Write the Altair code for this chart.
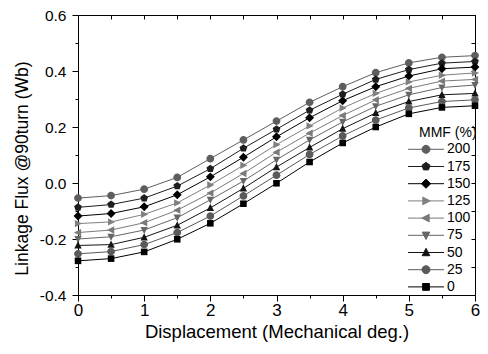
import altair as alt
import pandas as pd

FONT = "Liberation Sans"

displacement = [0, 0.5, 1, 1.5, 2, 2.5, 3, 3.5, 4, 4.5, 5, 5.5, 6]
mmf_levels = ["200", "175", "150", "125", "100", "75", "50", "25", "0"]

flux_200 = [-0.054, -0.045, -0.022, 0.020, 0.087, 0.154, 0.221, 0.288, 0.344, 0.394, 0.429, 0.449, 0.455]
flux_175 = [-0.087, -0.077, -0.054, -0.011, 0.051, 0.124, 0.192, 0.260, 0.317, 0.370, 0.405, 0.428, 0.434]
flux_150 = [-0.118, -0.109, -0.085, -0.042, 0.022, 0.092, 0.165, 0.233, 0.294, 0.344, 0.382, 0.408, 0.414]
flux_125 = [-0.145, -0.139, -0.112, -0.071, -0.007, 0.063, 0.137, 0.204, 0.268, 0.320, 0.361, 0.385, 0.393]
flux_100 = [-0.177, -0.168, -0.142, -0.097, -0.036, 0.034, 0.110, 0.178, 0.241, 0.297, 0.338, 0.364, 0.370]
flux_75 = [-0.200, -0.192, -0.168, -0.124, -0.060, 0.007, 0.083, 0.154, 0.218, 0.274, 0.315, 0.341, 0.350]
flux_50 = [-0.223, -0.220, -0.194, -0.151, -0.089, -0.019, 0.057, 0.127, 0.194, 0.250, 0.291, 0.315, 0.320]
flux_25 = [-0.253, -0.245, -0.220, -0.177, -0.118, -0.046, 0.028, 0.102, 0.168, 0.225, 0.268, 0.291, 0.297]
flux_0 = [-0.278, -0.270, -0.246, -0.201, -0.144, -0.074, -0.001, 0.075, 0.143, 0.200, 0.247, 0.270, 0.276]

series_values = [flux_200, flux_175, flux_150, flux_125, flux_100, flux_75, flux_50, flux_25, flux_0]
series_colors = ["#5e5e5e", "#1e1e1e", "#000000", "#808080", "#7a7a7a", "#666666", "#141414", "#5a5a5a", "#000000"]

marker_paths = [
    "M1,0A1,1,0,1,1,-1,0A1,1,0,1,1,1,0Z",                 # circle
    "M0,-1.05L1,-0.32L0.62,0.85L-0.62,0.85L-1,-0.32Z",     # pentagon
    "M0,-1.15L1.15,0L0,1.15L-1.15,0Z",                     # diamond
    "M1.05,0L-0.8,-0.95L-0.8,0.95Z",                       # triangle right
    "M-1.05,0L0.8,-0.95L0.8,0.95Z",                        # triangle left
    "M0,1.05L-0.95,-0.8L0.95,-0.8Z",                       # triangle down
    "M0,-1.05L-0.95,0.8L0.95,0.8Z",                        # triangle up
    "M1,0A1,1,0,1,1,-1,0A1,1,0,1,1,1,0Z",                 # circle
    "M-0.85,-0.85H0.85V0.85H-0.85Z",                       # square
]
legend_paths = ["M-4.5,0H4.5" + p for p in marker_paths]

x_ticks = [i * 0.5 for i in range(13)]
y_ticks = [round(-0.4 + 0.1 * i, 1) for i in range(11)]

rows = []
for lvl, vals in zip(mmf_levels, series_values):
    for xv, yv in zip(displacement, vals):
        rows.append({"x": xv, "flux": yv, "mmf": lvl})
df = pd.DataFrame(rows)

xs = alt.Scale(domain=[0, 6], nice=False, zero=False)
ys = alt.Scale(domain=[-0.4, 0.6], nice=False, zero=False)
color_scale = alt.Scale(domain=mmf_levels, range=series_colors)

is_y_major = "abs(datum.value*5 - round(datum.value*5)) < 0.001"

bottom_axis = alt.Axis(
    orient="bottom", values=x_ticks,
    labelExpr="datum.value % 1 == 0 ? format(datum.value, 'd') : ''",
    domain=False, grid=False, labelFlush=False, labelOverlap=False,
    tickSize={"condition": {"test": "datum.value % 1 == 0", "value": 6}, "value": 3},
    tickColor="black", tickWidth=1,
    labelFont=FONT, labelFontSize=17, labelColor="black", labelPadding=1,
    title="Displacement (Mechanical deg.)", titleFont=FONT, titleFontSize=18.5,
    titleFontWeight="normal", titleColor="black", titleY=42, titleBaseline="alphabetic",
)
left_axis = alt.Axis(
    orient="left", values=y_ticks,
    labelExpr=is_y_major + " ? (datum.value < -0.001 ? '-' + format(-datum.value, '.1f') : format(abs(datum.value), '.1f')) : ''",
    domain=False, grid=False, labelFlush=False, labelOverlap=False,
    tickSize={"condition": {"test": is_y_major, "value": 6}, "value": 3},
    tickColor="black", tickWidth=1,
    labelFont=FONT, labelFontSize=15.5, labelColor="black", labelPadding=6,
    title="Linkage Flux @90turn (Wb)", titleFont=FONT, titleFontSize=17.5,
    titleFontWeight="normal", titleColor="black", titleAngle=270,
    titleX=-56, titleY=153, titleAlign="center", titleBaseline="middle",
)
top_axis = alt.Axis(
    orient="top", values=x_ticks, labels=False, domain=False, grid=False,
    tickSize=4, offset=-4, tickColor="black", tickWidth=1, title="",
)
right_axis = alt.Axis(
    orient="right", values=y_ticks, labels=False, domain=False, grid=False,
    tickSize=4, offset=-4, tickColor="black", tickWidth=1, title="",
)

lines = alt.Chart(df).mark_line(strokeWidth=1).encode(
    x=alt.X("x:Q", scale=xs, axis=bottom_axis),
    y=alt.Y("flux:Q", scale=ys, axis=left_axis),
    color=alt.Color("mmf:N", scale=color_scale, legend=None),
)

points = alt.Chart(df).mark_point(filled=True, size=60, opacity=1).encode(
    x=alt.X("x:Q", scale=xs, axis=top_axis),
    y=alt.Y("flux:Q", scale=ys, axis=right_axis),
    color=alt.Color("mmf:N", scale=color_scale, legend=None),
    shape=alt.Shape("mmf:N", scale=alt.Scale(domain=mmf_levels, range=marker_paths), legend=None),
)

level_list = "[" + ",".join("'%s'" % v for v in mmf_levels) + "]"
color_list = "[" + ",".join("'%s'" % c for c in series_colors) + "]"
entry_color_expr = "%s[indexof(%s, datum.value)]" % (color_list, level_list)

leg = alt.Legend(
    title="MMF (%)", orient="none", legendX=341, legendY=110.7,
    titleFont=FONT, titleFontSize=14, titleFontWeight="normal", titleColor="black",
    titleAnchor="start", titlePadding=2.6,
    labelFont=FONT, labelFontSize=14, labelColor="black",
    symbolSize=64, symbolStrokeWidth=1,
    labelOffset=14, rowPadding=3.2, padding=0,
)

legend_layer = alt.Chart(df).transform_filter("false").mark_point(
    filled=True, opacity=1, strokeWidth=1,
    fill={"expr": entry_color_expr}, stroke={"expr": entry_color_expr},
).encode(
    x=alt.X("x:Q", scale=xs, axis=None),
    y=alt.Y("flux:Q", scale=ys, axis=None),
    shape=alt.Shape("mmf:N", scale=alt.Scale(domain=mmf_levels, range=legend_paths), legend=leg),
)

chart = (
    alt.layer(lines, points, legend_layer)
    .resolve_scale(shape="independent")
    .resolve_axis(x="independent", y="independent")
    .properties(
        width=397, height=280,
        padding={"left": 70, "top": 7, "right": 5, "bottom": 47},
        autosize=alt.AutoSizeParams(type="none"),
        background="white",
    )
    .configure_view(stroke="black", strokeWidth=1)
)

chart.save("out.html", embed_options={"renderer": "svg", "actions": False})
